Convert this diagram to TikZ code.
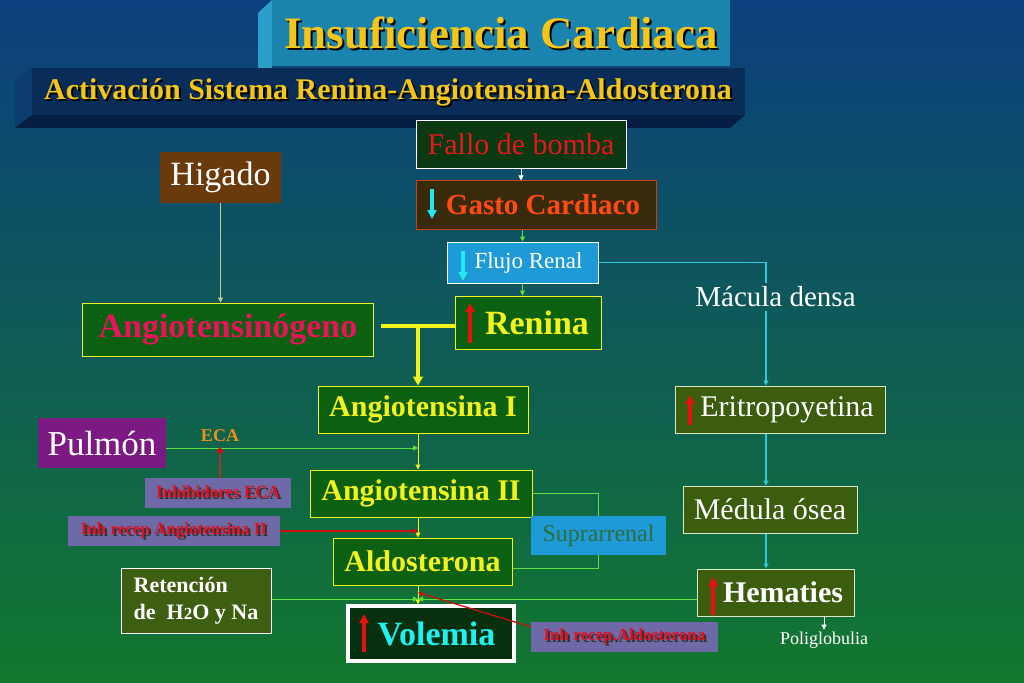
\documentclass[tikz,border=0pt]{standalone}
\usepackage{fontspec}
\setmainfont{Liberation Serif}
\usetikzlibrary{arrows.meta}

\definecolor{bgtop}{HTML}{0B3F7E}
\definecolor{bgmid}{HTML}{0B5A5E}
\definecolor{bgbot}{HTML}{12782E}
\definecolor{titlefront}{HTML}{1A84AE}
\definecolor{titleside}{HTML}{2C9ECB}
\definecolor{subfront}{HTML}{0A2C58}
\definecolor{subside}{HTML}{0C3C70}
\definecolor{subbottom}{HTML}{061E44}
\definecolor{gold}{HTML}{F5C518}
\definecolor{darkgrn}{HTML}{0B3A12}
\definecolor{fallored}{HTML}{E8141E}
\definecolor{gastofill}{HTML}{3A2A0C}
\definecolor{gastoedge}{HTML}{C8401A}
\definecolor{gastotxt}{HTML}{FF4A14}
\definecolor{skyblue}{HTML}{1E9AD6}
\definecolor{boxgreen}{HTML}{0B6012}
\definecolor{boxyellow}{HTML}{F2F21E}
\definecolor{angpink}{HTML}{E8145A}
\definecolor{liver}{HTML}{6B3A0C}
\definecolor{lung}{HTML}{7A1A82}
\definecolor{volfill}{HTML}{06300E}
\definecolor{volcyan}{HTML}{20F0F0}
\definecolor{slate}{HTML}{6E6AA8}
\definecolor{inhred}{HTML}{E01020}
\definecolor{retfill}{HTML}{3E5E12}
\definecolor{olive}{HTML}{3C5C0E}
\definecolor{oliveedge}{HTML}{D8E8C8}
\definecolor{supratxt}{HTML}{2E6E3E}
\definecolor{ecaorange}{HTML}{E8901A}
\definecolor{lgreen}{HTML}{60E040}
\definecolor{cyanline}{HTML}{30C8D8}
\definecolor{khaki}{HTML}{C8C890}
\definecolor{brick}{HTML}{A03A28}
\definecolor{redline}{HTML}{C81010}
\definecolor{upred}{HTML}{E81010}
\definecolor{dncyan}{HTML}{20E8F0}

\newcommand{\fsz}[1]{\fontsize{#1bp}{#1bp}\selectfont}
\newcommand{\shadowed}[2][black]{\makebox[0pt][l]{\hspace{2bp}\raisebox{-2bp}{\color{#1}#2}}#2}

\begin{document}
\begin{tikzpicture}[x=1bp,y=-1bp,
  >={Triangle[length=5bp,width=5bp]},
  box/.style={draw,line width=1bp,inner sep=0pt},
  ybox/.style={box,fill=boxgreen,draw=boxyellow,text=boxyellow,font=\bfseries\fsz{30}},
  obox/.style={box,fill=olive,draw=oliveedge,text=white,font=\fsz{30}},
  inhbox/.style={fill=slate,text=inhred,inner sep=0pt,font=\bfseries\fsz{17}},
  indic/.style={line width=4bp,-{Triangle[length=9bp,width=9bp]}},
  gline/.style={lgreen,line width=1bp},
  yline/.style={boxyellow,line width=1bp},
  rline/.style={redline,line width=1.3bp},
  cline/.style={cyanline,line width=1.3bp}]

\useasboundingbox (0,0) rectangle (1024,683);
\shade[top color=bgtop,middle color=bgmid,bottom color=bgbot] (0,0) rectangle (1024,683);

% Title blocks
\fill[titleside] (272,0) -- (258,13) -- (258,68) -- (272,68) -- cycle;
\fill[titlefront] (272,0) rectangle (730,66);
\node[text=gold,font=\bfseries\fsz{45}] (title) at (501,34) {\shadowed{Insuficiencia Cardiaca}};
\fill[subside] (32,68) -- (15,80) -- (15,128) -- (32,115) -- cycle;
\fill[subbottom] (32,115) -- (745,115) -- (730,128) -- (15,128) -- cycle;
\fill[subfront] (32,68) rectangle (745,115);
\node[text=gold,font=\bfseries\fsz{30}] (subtitle) at (388,93) {\shadowed{Activación Sistema Renina-Angiotensina-Aldosterona}};

% Heart and kidney
\node[box,fill=darkgrn,draw=white,text=fallored,font=\fsz{30},minimum width=210bp,minimum height=47bp] (fallo) at (521,144.5) {Fallo de bomba};
\node[box,fill=gastofill,draw=gastoedge,text=gastotxt,font=\bfseries\fsz{29},minimum width=240bp,minimum height=48bp] (gasto) at (536,205) {\hspace{14bp}Gasto Cardiaco};
\node[box,fill=skyblue,draw=white,text=white,font=\fsz{23},minimum width=151bp,minimum height=41bp] (flujo) at (522.5,262.5) {\hspace{12bp}Flujo Renal};
\node[ybox,font=\bfseries\fsz{34},minimum width=146bp,minimum height=53bp] (renina) at (528,322.5) {\hspace{18bp}Renina};
\node[text=white,font=\fsz{29},inner sep=4bp] (macula) at (775.5,297) {Mácula densa};

% Liver and lung
\node[fill=liver,text=white,font=\fsz{34},inner sep=0pt,minimum width=121bp,minimum height=51bp] (higado) at (220.5,177.5) {Higado};
\node[box,fill=boxgreen,draw=boxyellow,text=angpink,font=\bfseries\fsz{34},minimum width=290bp,minimum height=53bp] (angio) at (228,329.5) {Angiotensinógeno};
\node[fill=lung,text=white,font=\fsz{35},inner sep=0pt,minimum width=128bp,minimum height=50bp] (pulmon) at (102,443) {Pulmón};
\node[text=ecaorange,font=\bfseries\fsz{18},inner sep=1bp] (eca) at (220,436) {ECA};

% Angiotensin chain
\node[ybox,minimum width=210bp,minimum height=47bp] (angI) at (423,409.5) {Angiotensina I};
\node[ybox,minimum width=222bp,minimum height=47bp] (angII) at (421,493.5) {Angiotensina II};
\node[ybox,minimum width=179bp,minimum height=47bp] (aldo) at (422.5,561.5) {Aldosterona};
\node[box,line width=3.5bp,fill=volfill,draw=white,text=volcyan,font=\bfseries\fsz{34},minimum width=166bp,minimum height=55bp] (volemia) at (431,633.5) {\hspace{11bp}Volemia};
\node[fill=skyblue,text=supratxt,font=\fsz{24},inner sep=0pt,minimum width=135bp,minimum height=39bp] (supra) at (598.5,535.5) {Suprarrenal};
\node[box,fill=retfill,draw=white,text=white,font=\bfseries\fontsize{22bp}{27bp}\selectfont,align=left,minimum width=150bp,minimum height=65bp] (reten) at (196,600.5) {Retención\\de\ \ H{\fsz{17}2}O y Na};

% Inhibitors
\node[inhbox,minimum width=146bp,minimum height=30bp] (inhECA) at (218,493) {\shadowed[black!80]{Inhibidores ECA}};
\node[inhbox,minimum width=212bp,minimum height=30bp] (inhAT) at (174,531) {\shadowed[black!80]{Inh recep Angiotensina II}};
\node[inhbox,minimum width=187bp,minimum height=30bp] (inhAldo) at (624.5,637) {\shadowed[black!80]{Inh recep.Aldosterona}};

% Erythropoietin branch
\node[obox,minimum width=210bp,minimum height=47bp] (eritro) at (780,409.5) {\hspace{14bp}Eritropoyetina};
\node[obox,minimum width=174bp,minimum height=47bp] (medula) at (770,509.5) {Médula ósea};
\node[obox,font=\bfseries\fsz{30},minimum width=157bp,minimum height=47bp] (hemat) at (775.5,592.5) {\hspace{15bp}Hematies};
\node[text=white,font=\fsz{18},inner sep=2bp] (poli) at (824,640) {Poliglobulia};

% Up and down marks
\draw[indic,dncyan] (432,189) -- (432,219);
\draw[indic,dncyan] (463,251) -- (463,281);
\draw[indic,upred] (470,343) -- (470,303);
\draw[indic,upred] (690,425) -- (690,395);
\draw[indic,upred] (713,615) -- (713,577);
\draw[indic,upred] (364,652) -- (364,614);

% Connectors
\coordinate (ax) at (418,0);
\coordinate (cy) at (766,0);
\coordinate (tj) at (418,326);
\draw[white,line width=1bp,->] (fallo.south) -- (fallo.south |- gasto.north);
\draw[gline,->] (flujo.north |- gasto.south) -- (flujo.north);
\draw[gline,->] (flujo.south) -- (flujo.south |- renina.north);
\draw[cline] (flujo.east) -| (cy |- macula.north);
\draw[cline,->] (cy |- macula.south) -- (cy |- eritro.north);
\draw[cline,->] (cy |- eritro.south) -- (cy |- medula.north);
\draw[cline,->] (cy |- medula.south) -- (cy |- hemat.north);
\draw[white,line width=1bp,->] (poli.north |- hemat.south) -- (poli.north);
\draw[khaki,line width=1.2bp,->] (higado.south) -- (higado.south |- angio.north);
\draw[boxyellow,line width=4bp] ([xshift=7bp]angio.east |- tj) -- (tj -| renina.west);
\draw[boxyellow,line width=4bp,-{Triangle[length=9bp,width=10bp]}] (tj) -- (tj |- angI.north);
\path ([yshift=-5bp]pulmon.east) coordinate (pe);
\draw[gline,->] (pe) -- (pe -| ax);
\draw[brick,line width=2.5bp,-{Circle[length=6bp,color=redline]}] (eca |- inhECA.north) -- (eca |- pe);
\draw[yline,->] (ax |- angI.south) -- (ax |- angII.north);
\draw[yline,->] (ax |- angII.south) -- (ax |- aldo.north);
\draw[rline,->] (inhAT.east) -- (inhAT.east -| ax);
\draw[gline] (angII.east) -| (supra.north);
\draw[gline] (supra.south) |- ([yshift=-7bp]aldo.east);
\draw[yline,->] (ax |- aldo.south) -- (ax |- volemia.north);
\draw[gline,->] (reten.east |- 0,599) -- (ax |- 0,599);
\draw[gline,->] (hemat.west |- 0,599) -- (ax |- 0,599);
\draw[rline,->] ([yshift=-5bp]inhAldo.north west) -- ([yshift=-7bp]ax |- aldo.south);

\end{tikzpicture}
\end{document}
